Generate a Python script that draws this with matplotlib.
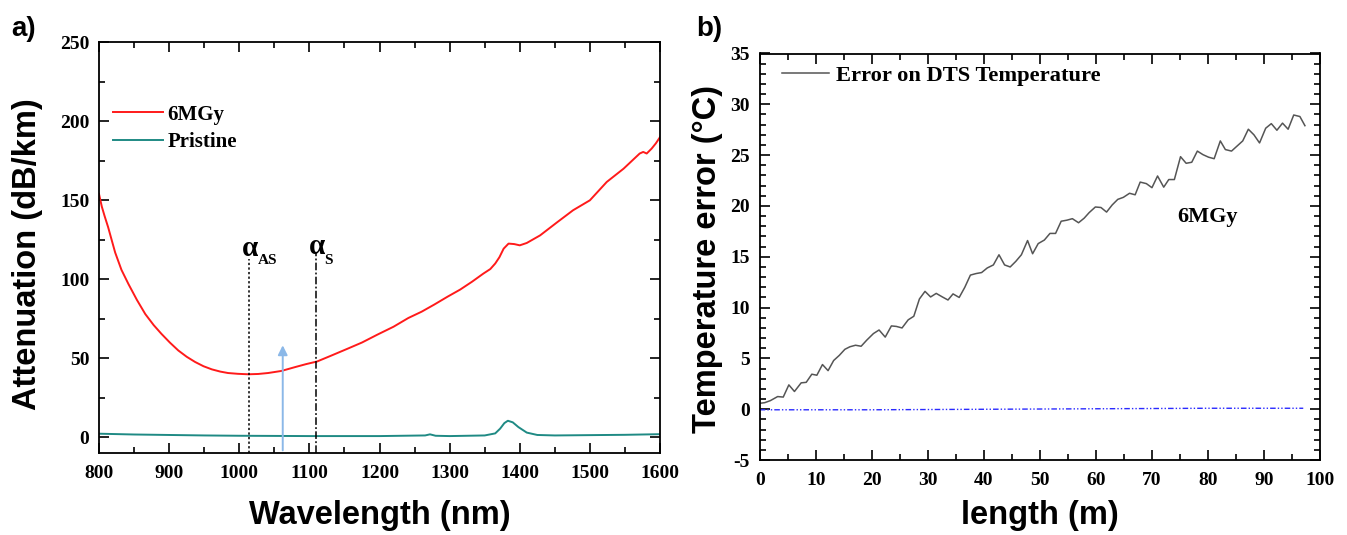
import matplotlib
matplotlib.use('Agg')
import matplotlib.pyplot as plt
from matplotlib.ticker import MultipleLocator

# ---- panel a: attenuation spectra ----------------------------------------
wl_6mgy = [800, 804, 808, 813, 818, 823, 832, 842, 854, 866, 878, 889, 901, 913,
           925, 937, 949, 961, 973, 984, 998, 1013, 1027, 1041, 1060, 1080, 1095,
           1111, 1130, 1154, 1175, 1197, 1220, 1241, 1260, 1278, 1297, 1315, 1332,
           1348, 1358, 1365, 1371, 1377, 1384, 1392, 1400, 1410, 1429, 1453, 1476,
           1500, 1524, 1548, 1571, 1576, 1581, 1588, 1594, 1600]
att_6mgy = [154, 146, 140, 133, 125, 117, 106, 97, 87, 78, 71, 65.5, 60, 55,
            51, 47.7, 45, 43, 41.6, 40.7, 40.2, 39.9, 40.1, 40.7, 42, 44.5, 46.3,
            48, 51.5, 56, 60, 65, 70, 75.5, 79.5, 84, 89, 93.5, 98.5, 103.6, 106.5,
            110, 114, 119.4, 122.6, 122.3, 121.5, 123, 127.8, 136, 143.7, 150,
            161.6, 170, 179.6, 180.6, 179.6, 182.7, 186, 190]

wl_pristine = [800, 850, 900, 950, 1000, 1100, 1200, 1265, 1272, 1280, 1300, 1350,
               1365, 1372, 1378, 1383, 1390, 1398, 1410, 1425, 1450, 1500, 1550, 1600]
att_pristine = [2.3, 1.8, 1.5, 1.2, 1.0, 0.8, 0.8, 1.2, 1.9, 1.0, 0.8, 1.2,
                2.5, 5.5, 9.0, 10.5, 9.5, 6.5, 3.0, 1.5, 1.2, 1.4, 1.6, 2.0]

alpha_as_wl, alpha_as_top = 1014, 113
alpha_s_wl, alpha_s_top = 1110, 117
pump_wl, pump_top = 1062, 60

# ---- panel b: DTS temperature error ----------------------------------------
length_m = [0.2, 0.9, 1.9, 3.2, 4.2, 5.2, 6.2, 7.4, 8.3, 9.3, 10.2, 11.2, 12.2,
            13.2, 14.2, 15.2, 16.1, 17.1, 18.1, 19.1, 20.3, 21.3, 22.4, 23.5,
            24.4, 25.4, 26.5, 27.5, 28.5, 29.5, 30.5, 31.5, 32.6, 33.6, 34.5,
            35.6, 36.6, 37.6, 38.6, 39.6, 40.6, 41.7, 42.7, 43.7, 44.7, 45.7,
            46.7, 47.8, 48.7, 49.7, 50.8, 51.8, 52.8, 53.8, 54.8, 55.8, 56.9,
            57.9, 58.8, 59.9, 60.9, 61.9, 62.9, 63.9, 64.9, 66.0, 67.0, 67.9,
            69.0, 70.0, 71.0, 72.1, 73.0, 74.0, 75.1, 76.1, 77.1, 78.1, 79.1,
            80.1, 81.1, 82.2, 83.1, 84.2, 85.2, 86.2, 87.2, 88.2, 89.2, 90.3,
            91.3, 92.3, 93.3, 94.3, 95.3, 96.4, 97.3]
temp_err = [0.6, 0.65, 0.85, 1.25, 1.2, 2.4, 1.75, 2.6, 2.65, 3.45, 3.35, 4.4,
            3.8, 4.8, 5.3, 5.9, 6.15, 6.3, 6.2, 6.8, 7.45, 7.8, 7.1, 8.2, 8.15,
            8.0, 8.8, 9.15, 10.85, 11.6, 11.05, 11.4, 11.05, 10.75, 11.35, 11.0,
            12.0, 13.2, 13.35, 13.45, 13.9, 14.2, 15.2, 14.2, 14.0, 14.55, 15.2,
            16.6, 15.3, 16.3, 16.65, 17.3, 17.3, 18.5, 18.6, 18.75, 18.35, 18.8,
            19.35, 19.9, 19.85, 19.4, 20.1, 20.65, 20.85, 21.25, 21.1, 22.35,
            22.2, 21.8, 22.95, 21.85, 22.6, 22.6, 24.85, 24.2, 24.3, 25.4, 25.05,
            24.8, 24.65, 26.4, 25.55, 25.4, 25.9, 26.4, 27.55, 27.0, 26.2, 27.65,
            28.1, 27.45, 28.15, 27.55, 28.95, 28.8, 27.9]

ref_length = [0, 20, 40, 60, 80, 97]
ref_err = [-0.05, -0.05, 0.0, 0.05, 0.1, 0.1]

SERIF = ['Liberation Serif', 'DejaVu Serif']
SANS = ['Liberation Sans', 'DejaVu Sans']
plt.rcParams['font.family'] = SERIF
plt.rcParams['font.weight'] = 'bold'
plt.rcParams['axes.unicode_minus'] = False

fig = plt.figure(figsize=(13.47, 5.35), dpi=100)
ax1 = fig.add_axes([0.0735, 0.153, 0.4165, 0.768])
ax2 = fig.add_axes([0.564, 0.140, 0.416, 0.760])


def style_axes(ax):
    ax.tick_params(which='both', direction='in', top=True, right=True,
                   labelsize=14, width=1.2)
    ax.tick_params(which='major', length=7)
    ax.tick_params(which='minor', length=4)
    ax.tick_params(axis='x', which='major', pad=8.5)
    ax.tick_params(axis='y', which='major', pad=7)
    for s in ax.spines.values():
        s.set_linewidth(1.3)
    for lab in ax.get_xticklabels() + ax.get_yticklabels():
        lab.set_fontweight('bold')
        lab.set_family(SERIF)


# panel a
ax1.plot(wl_6mgy, att_6mgy, color='#ff1a1a', lw=1.4, label='6MGy')
ax1.plot(wl_pristine, att_pristine, color='#1f8a84', lw=1.4, label='Pristine')
ax1.plot([alpha_as_wl, alpha_as_wl], [-10, alpha_as_top], color='black', lw=1.1,
         ls=(0, (1.5, 1.5)))
ax1.plot([alpha_s_wl, alpha_s_wl], [-10, alpha_s_top], color='black', lw=1.1,
         ls=(0, (5, 1.5, 1.2, 1.5)))
ax1.annotate('', xy=(pump_wl, pump_top), xytext=(pump_wl, -10),
             arrowprops=dict(arrowstyle='-|>', color='#8bb8e8', lw=1.4,
                             mutation_scale=14))
ax1.text(1004, 115, 'α', fontsize=21, ha='left', va='baseline')
ax1.text(1026, 110, 'AS', fontsize=11, ha='left', va='baseline')
ax1.text(1099, 116, 'α', fontsize=21, ha='left', va='baseline')
ax1.text(1121, 110, 'S', fontsize=11, ha='left', va='baseline')
ax1.set_xlim(800, 1600)
ax1.set_ylim(-10, 250)
ax1.xaxis.set_major_locator(MultipleLocator(100))
ax1.xaxis.set_minor_locator(MultipleLocator(50))
ax1.yaxis.set_major_locator(MultipleLocator(50))
ax1.yaxis.set_minor_locator(MultipleLocator(25))
ax1.legend(loc='upper left', bbox_to_anchor=(0.025, 0.848), frameon=False,
           prop={'family': SERIF, 'weight': 'bold', 'size': 15},
           handlelength=2.4, handletextpad=0.2, labelspacing=0.35,
           borderpad=0, borderaxespad=0)
ax1.set_xlabel('Wavelength (nm)', family=SANS, fontweight='bold', fontsize=23.5)
ax1.set_ylabel('Attenuation (dB/km)', family=SANS, fontweight='bold', fontsize=23.5)
ax1.xaxis.set_label_coords(0.5, -0.115)
ax1.yaxis.set_label_coords(-0.1, 0.484)
style_axes(ax1)

# panel b
ax2.plot(length_m, temp_err, color='#555555', lw=1.1, label='Error on DTS Temperature')
ax2.plot(ref_length, ref_err, color='#2a2aff', lw=1.0, ls=(0, (4, 1.5, 1, 1.5, 1, 1.5)))
ax2.text(80, 18.9, '6MGy', fontsize=16, fontweight='bold', ha='center', va='center')
ax2.set_xlim(0, 100)
ax2.set_ylim(-5, 35)
ax2.xaxis.set_major_locator(MultipleLocator(10))
ax2.xaxis.set_minor_locator(MultipleLocator(5))
ax2.yaxis.set_major_locator(MultipleLocator(5))
ax2.yaxis.set_minor_locator(MultipleLocator(1))
ax2.legend(loc='upper left', bbox_to_anchor=(0.04, 0.972), frameon=False,
           prop={'family': SERIF, 'weight': 'bold', 'size': 16.2},
           handlelength=2.1, handletextpad=0.3, borderpad=0, borderaxespad=0)
ax2.set_xlabel('length (m)', family=SANS, fontweight='bold', fontsize=23.5)
ax2.set_ylabel('Temperature error (°C)', family=SANS, fontweight='bold', fontsize=23.5)
ax2.xaxis.set_label_coords(0.5, -0.099)
ax2.yaxis.set_label_coords(-0.066, 0.495)
style_axes(ax2)

fig.text(0.008, 0.946, 'a)', family=SANS, fontweight='bold', fontsize=20, va='center')
fig.text(0.517, 0.946, 'b)', family=SANS, fontweight='bold', fontsize=20, va='center')

fig.savefig('out.png', dpi=100)
